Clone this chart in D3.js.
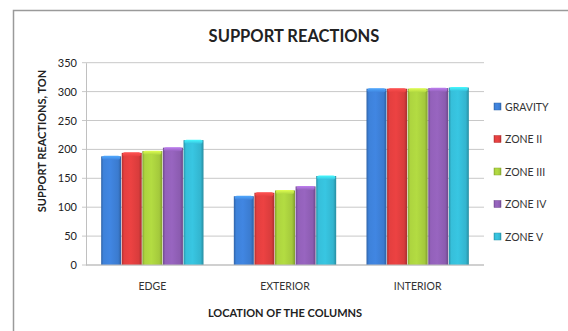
<!DOCTYPE html>
<html>
<head>
<meta charset="utf-8">
<script src="https://cdn.jsdelivr.net/npm/d3@7"></script>
<style>
  html, body { margin: 0; padding: 0; background: #fff; }
  svg { display: block; font-family: Lato, "Open Sans", sans-serif; }
</style>
</head>
<body>
<svg id="chart" width="568" height="331"></svg>
<script>
// Support reactions (ton) per column location and load case
const categories = ["EDGE", "EXTERIOR", "INTERIOR"];
const seriesNames = ["GRAVITY", "ZONE II", "ZONE III", "ZONE IV", "ZONE V"];
const gravity = [188, 119, 305];
const zone2   = [194, 125, 305];
const zone3   = [197, 129, 305];
const zone4   = [203, 136, 306];
const zone5   = [216, 154, 307];
const yTicks  = [0, 50, 100, 150, 200, 250, 300, 350];
const seriesColors = ["#3b7bcf", "#d83c3c", "#a4c93c", "#8b5cb0", "#33b5cf"];

const seriesValues = [gravity, zone2, zone3, zone4, zone5];

const svg = d3.select("#chart");
const W = 568, H = 331;
const plot = { left: 86, right: 484, top: 62.7, bottom: 265 };

// outer chart frame (runs off the right and bottom edges)
svg.append("rect")
  .attr("x", 13.5).attr("y", 10.5)
  .attr("width", W).attr("height", H)
  .attr("fill", "#fff").attr("stroke", "#9a9a9a").attr("stroke-width", 1.5);

const x0 = d3.scaleBand().domain(categories)
  .range([plot.left, plot.right]).paddingInner(0.224).paddingOuter(0.112);
const x1 = d3.scaleBand().domain(seriesNames).range([0, x0.bandwidth()]);
const y = d3.scaleLinear().domain([0, 350]).range([plot.bottom, plot.top]);

// gradients giving each bar a rounded, shaded look
const defs = svg.append("defs");
seriesColors.forEach((c, i) => {
  const base = d3.color(c);
  const g = defs.append("linearGradient").attr("id", "g" + i)
    .attr("x1", "0").attr("x2", "1").attr("y1", "0").attr("y2", "0");
  g.append("stop").attr("offset", "0%").attr("stop-color", base.darker(0.6));
  g.append("stop").attr("offset", "12%").attr("stop-color", base.brighter(0.15));
  g.append("stop").attr("offset", "45%").attr("stop-color", base.brighter(0.25));
  g.append("stop").attr("offset", "85%").attr("stop-color", base);
  g.append("stop").attr("offset", "100%").attr("stop-color", base.darker(0.7));
  const t = defs.append("linearGradient").attr("id", "t" + i)
    .attr("x1", "0").attr("x2", "0").attr("y1", "0").attr("y2", "1");
  t.append("stop").attr("offset", "0%").attr("stop-color", base.brighter(0.9));
  t.append("stop").attr("offset", "100%").attr("stop-color", base.brighter(0.2));
});

// gridlines with tick stubs
const grid = svg.append("g");
yTicks.forEach(v => {
  grid.append("line")
    .attr("x1", plot.left - 4).attr("x2", plot.right)
    .attr("y1", y(v)).attr("y2", y(v))
    .attr("stroke", "#c8c8c8").attr("stroke-width", 1);
});

// y axis
const yAxis = d3.axisLeft(y).tickValues(yTicks).tickSize(0).tickPadding(9);
const ya = svg.append("g").attr("transform", `translate(${plot.left},0)`).call(yAxis);
ya.select(".domain").attr("stroke", "#c0c0c0");
ya.selectAll("text").attr("font-size", 11).attr("fill", "#222")
  .attr("font-family", "Lato, sans-serif");

// bars
const groups = svg.append("g").selectAll("g")
  .data(categories).join("g")
  .attr("transform", d => `translate(${x0(d)},0)`);

groups.each(function(cat, ci) {
  const g = d3.select(this);
  seriesNames.forEach((s, si) => {
    const v = seriesValues[si][ci];
    const bx = x1(s), bw = x1.bandwidth();
    const by = y(v), bh = y(0) - y(v);
    g.append("rect")
      .attr("x", bx + 0.3).attr("y", by)
      .attr("width", bw - 0.6).attr("height", bh)
      .attr("fill", `url(#g${si})`);
    g.append("rect")
      .attr("x", bx + 1.2).attr("y", by - 0.5)
      .attr("width", bw - 2.4).attr("height", 4)
      .attr("rx", 2)
      .attr("fill", `url(#t${si})`);
  });
});

// x axis line
svg.append("line")
  .attr("x1", plot.left).attr("x2", plot.right)
  .attr("y1", plot.bottom).attr("y2", plot.bottom)
  .attr("stroke", "#bdbdbd");

// category labels
svg.append("g").selectAll("text")
  .data(categories).join("text")
  .attr("x", d => x0(d) + x0.bandwidth() / 2)
  .attr("y", 290)
  .attr("text-anchor", "middle")
  .attr("font-size", 10.5).attr("fill", "#333")
  .text(d => d);

// titles
svg.append("text")
  .attr("x", 294).attr("y", 42)
  .attr("text-anchor", "middle")
  .attr("font-size", 16.5).attr("font-weight", "bold").attr("fill", "#222")
  .text("SUPPORT REACTIONS");

svg.append("text")
  .attr("x", 285).attr("y", 317)
  .attr("text-anchor", "middle")
  .attr("font-size", 11).attr("font-weight", "bold").attr("fill", "#222")
  .text("LOCATION OF THE COLUMNS");

svg.append("text")
  .attr("transform", "translate(46,141) rotate(-90)")
  .attr("text-anchor", "middle")
  .attr("font-size", 11).attr("font-weight", "bold").attr("fill", "#222")
  .text("SUPPORT REACTIONS, TON");

// legend
const legend = svg.append("g").selectAll("g")
  .data(seriesNames).join("g")
  .attr("transform", (d, i) => `translate(494,${106.5 + i * 32.5})`);
legend.append("rect")
  .attr("x", 0).attr("y", -3.5).attr("width", 7).attr("height", 7)
  .attr("fill", (d, i) => `url(#g${i})`)
  .attr("stroke", (d, i) => d3.color(seriesColors[i]).darker(0.5)).attr("stroke-width", 0.5);
legend.append("text")
  .attr("x", 11).attr("y", 4)
  .attr("font-size", 10.5).attr("fill", "#333")
  .text(d => d);
</script>
</body>
</html>
